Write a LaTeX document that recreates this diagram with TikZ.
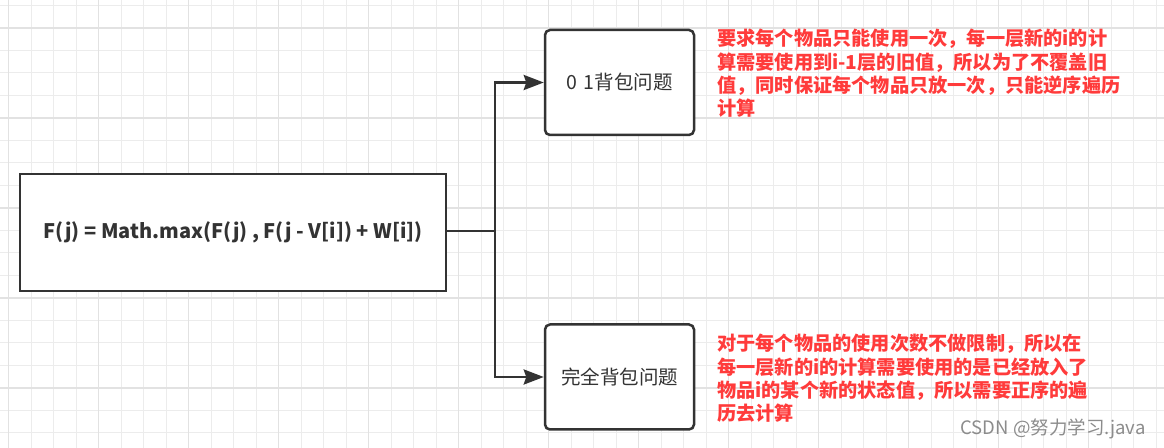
\documentclass[tikz,border=0pt]{standalone}
\usepackage{fontspec}
\setmainfont{Noto Sans CJK SC}
\usetikzlibrary{arrows.meta}
\definecolor{ink}{HTML}{333333}
\definecolor{note}{HTML}{FF3B3B}
\definecolor{gridminor}{HTML}{ECECEC}
\definecolor{gridmajor}{HTML}{E2E2E2}
\definecolor{wm}{HTML}{8C8C8C}
\tikzset{
  minorline/.style={draw=gridminor, line width=1bp},
  majorline/.style={draw=gridmajor, line width=1.5bp},
  mainbox/.style={draw=ink, line width=2.5bp, fill=white, minimum width=426bp, minimum height=117bp, inner sep=0pt,
    font=\bfseries\fontsize{20bp}{24bp}\selectfont, text=ink},
  probbox/.style={draw=ink, line width=2.5bp, fill=white, rounded corners=5bp, minimum width=149bp, minimum height=105bp, inner sep=0pt,
    font=\fontsize{19.5bp}{23bp}\selectfont, text=ink},
  notetext/.style={anchor=north west, align=left, inner sep=0pt, text=note,
    font=\bfseries\fontsize{19.2bp}{23.3bp}\selectfont},
  conn/.style={draw=ink, line width=2.7bp},
  arr/.style={conn, -{Stealth[length=20bp, width=15bp, inset=2.5bp]}},
  wmtext/.style={text=wm, inner sep=0pt, font=\fontsize{18.5bp}{22bp}\selectfont}
}
\begin{document}
\begin{tikzpicture}[x=1bp, y=-1bp]
\useasboundingbox (0,0) rectangle (1164,448);
\fill[white] (0,0) rectangle (1164,448);
% grid
\foreach \i in {0,...,51} \draw[minorline] ({8.5+22.5*\i},0) -- ++(0,448);
\foreach \i in {0,...,19} \draw[minorline] (0,{5.5+22.5*\i}) -- ++(1164,0);
\foreach \i in {0,...,12} \draw[majorline] ({8.5+90*\i},0) -- ++(0,448);
\foreach \i in {0,...,4} \draw[majorline] (0,{28+90*\i}) -- ++(1164,0);
% nodes
\node[mainbox] (main) at (233,232.5) {F(j) = Math.max(F(j) , F(j - V[i]) + W[i])};
\node[probbox] (top) at (619.5,82.5) {0\,\,1背包问题};
\node[probbox] (bot) at (619.5,377) {完全背包问题};
\coordinate (junc) at (495,231);
\draw[conn] (main.east |- junc) -- (junc);
\draw[arr] (junc) |- (top.west);
\draw[arr] (junc) |- (bot.west);
\node[notetext] (note1) at (717,29) {要求每个物品只能使用一次，每一层新的i的计\\算需要使用到i-1层的旧值，所以为了不覆盖旧\\值，同时保证每个物品只放一次，只能逆序遍历\\计算};
\node[notetext] (note2) at (717,334) {对于每个物品的使用次数不做限制，所以在\\每一层新的i的计算需要使用的是已经放入了\\物品i的某个新的状态值，所以需要正序的遍\\历去计算};
\node[wmtext] (wm) at (1053,429) {CSDN @努力学习.java};
\end{tikzpicture}
\end{document}
